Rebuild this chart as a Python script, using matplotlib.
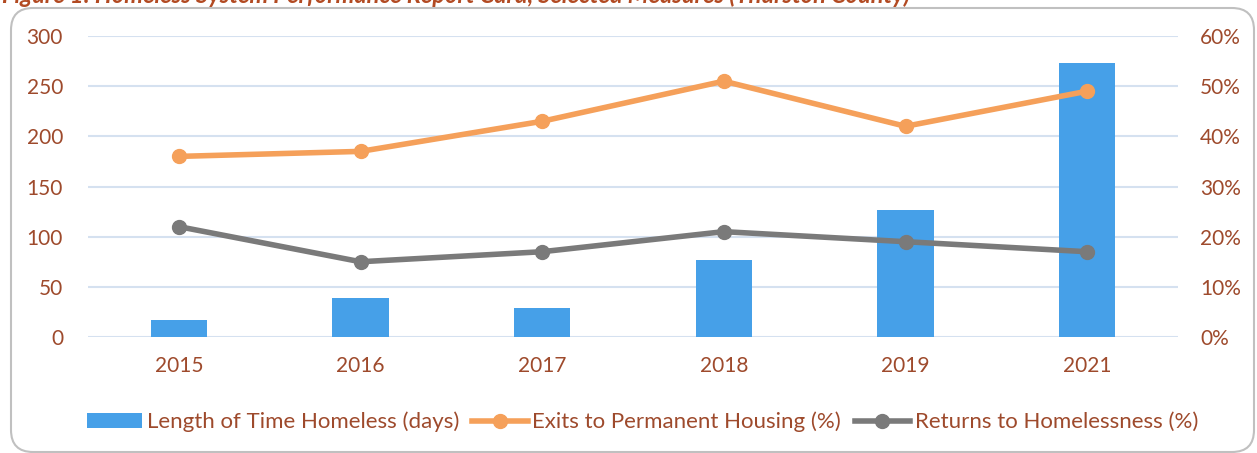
import matplotlib
matplotlib.use("Agg")
import matplotlib.pyplot as plt
from matplotlib.patches import FancyBboxPatch
from matplotlib.lines import Line2D
from matplotlib.patches import Patch
from matplotlib.transforms import IdentityTransform
import numpy as np

categories = ["2015", "2016", "2017", "2018", "2019", "2021"]
length_days = [17, 39, 29, 77, 127, 273]
exits_pct = [36, 37, 43, 51, 42, 49]
returns_pct = [22, 15, 17, 21, 19, 17]
left_ticks = [0, 50, 100, 150, 200, 250, 300]
right_ticks = [0, 10, 20, 30, 40, 50, 60]
title = "Figure 1: Homeless System Performance Report Card, Selected Measures (Thurston County)"

TXT = "#9E4A2C"
BAR = "#46A0E8"
ORANGE = "#F5A05A"
GRAY = "#7A7A7A"
GRID = "#D5E1F0"

plt.rcParams['font.family'] = ['Lato', 'DejaVu Sans']

W, H = 1257, 453
fig = plt.figure(figsize=(W/100, H/100), dpi=100)

# frame (pixel coordinates, origin bottom-left)
frame = FancyBboxPatch((11, 1), 1243, H - 8 - 1,
                       boxstyle="round,pad=0,rounding_size=22",
                       transform=IdentityTransform(), fill=False,
                       edgecolor="#C0C0C0", linewidth=1.5)
fig.patches.append(frame)

fig.text(2/W, 1 - 3/H, title, ha='left', va='baseline', fontsize=17,
         fontweight='bold', fontstyle='italic', color="#B24A22")

ax = fig.add_axes([88/W, (H-337)/H, (1178-88)/W, (337-36)/H])
x = np.arange(len(categories))
ax.bar(x, length_days, width=0.31, color=BAR, zorder=2)
ax.set_xlim(-0.5, len(categories) - 0.5)
ax.set_ylim(0, 300)
ax.set_yticks(left_ticks)
ax.set_yticklabels([str(t) for t in left_ticks])
ax.set_xticks(x)
ax.set_xticklabels(categories)
ax.grid(axis='y', color=GRID, linewidth=1.5, zorder=0)
ax.set_axisbelow(True)
for s in ax.spines.values():
    s.set_visible(False)
ax.tick_params(axis='both', length=0, labelsize=15, colors=TXT)
ax.tick_params(axis='y', pad=18)
ax.tick_params(axis='x', pad=14)

ax2 = ax.twinx()
ax2.set_ylim(0, 60)
ax2.set_yticks(right_ticks)
ax2.set_yticklabels([f"{t}%" for t in right_ticks])
for s in ax2.spines.values():
    s.set_visible(False)
ax2.tick_params(axis='y', length=0, labelsize=15, colors=TXT, pad=16)
ax2.plot(x, exits_pct, color=ORANGE, linewidth=4, marker='o', markersize=10, zorder=3)
ax2.plot(x, returns_pct, color=GRAY, linewidth=4, marker='o', markersize=10, zorder=3)

handles = [Patch(facecolor=BAR),
           Line2D([0], [0], color=ORANGE, linewidth=4, marker='o', markersize=10),
           Line2D([0], [0], color=GRAY, linewidth=4, marker='o', markersize=10)]
labels = ["Length of Time Homeless (days)", "Exits to Permanent Housing (%)",
          "Returns to Homelessness (%)"]
leg = fig.legend(handles, labels, loc='center', bbox_to_anchor=(0.511, 1 - 422/H),
                 ncol=3, frameon=False, fontsize=16, handlelength=2.5,
                 handletextpad=0.2, columnspacing=0.6)
for t in leg.get_texts():
    t.set_color(TXT)

fig.savefig("out.png", dpi=100)
